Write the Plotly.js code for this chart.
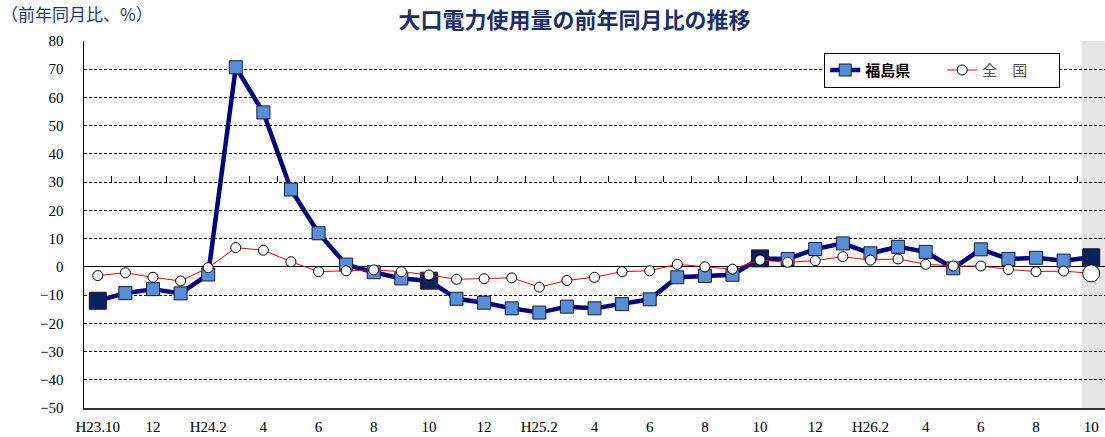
<!DOCTYPE html>
<html><head><meta charset="utf-8">
<script src="https://cdn.plot.ly/plotly-3.0.1.min.js"></script>
<style>html,body{margin:0;padding:0;background:#fff}#c{width:1105px;height:437px}
.legend .traces{opacity:1 !important}</style>
</head><body><div id="c"></div>
<script>
const months = ["H23.10","11","12","H24.1","2","3","4","5","6","7","8","9","10","11","12","H25.1","2","3","4","5","6","7","8","9","10","11","12","H26.1","2","3","4","5","6","7","8","9","10"];
const fukushima = [-12.0,-9.3,-7.9,-9.4,-2.7,70.7,54.7,27.4,11.9,0.8,-1.9,-4.1,-4.9,-11.3,-12.7,-14.7,-16.2,-14.1,-14.7,-13.2,-11.5,-3.7,-3.2,-2.8,3.0,2.8,6.3,8.3,4.8,7.1,5.3,-0.5,6.2,2.8,3.2,2.2,3.4];
const zenkoku = [-3.1,-2.1,-3.7,-5.0,-0.3,6.8,5.9,1.8,-1.7,-1.4,-1.1,-1.7,-2.9,-4.4,-4.2,-3.9,-7.2,-4.8,-3.7,-1.7,-1.4,0.9,0.0,-0.8,2.4,1.6,2.2,3.6,2.4,2.8,0.9,0.3,0.3,-0.9,-1.7,-1.5,-2.3];
const tickLabels = ["H23.10","12","H24.2","4","6","8","10","12","H25.2","4","6","8","10","12","H26.2","4","6","8","10"];
const yTicks = [80,70,60,50,40,30,20,10,0,-10,-20,-30,-40,-50];

const idx = months.map((_, i) => i);
const tickIdx = tickLabels.map((_, k) => k * 2);
const highlight = idx.map(i => i % 12 === 0);

const fFill = highlight.map(h => h ? '#0b2158' : '#568fd8');
const fSize = highlight.map(h => h ? 17 : 13);
const zSize = idx.map(i => i === idx.length - 1 ? 17 : 10);

const traces = [
  {x: idx, y: zenkoku, name: '全　国', type: 'scatter', mode: 'lines+markers',
   xaxis: 'x2', yaxis: 'y', showlegend: false,
   line: {color: '#ff0000', width: 1},
   marker: {symbol: 'circle', size: zSize, color: '#ffffff', opacity: 1, line: {color: '#000000', width: 1}}},
  {x: idx, y: fukushima, name: '福島県', type: 'scatter', mode: 'lines+markers', showlegend: false,
   line: {color: '#000080', width: 4.5},
   marker: {symbol: 'square', size: fSize, color: fFill, opacity: 1, line: {color: '#1a1a3a', width: 1}}},
  {x: idx, y: fukushima, name: '<b>福島県</b>', type: 'scatter', mode: 'lines+markers', visible: 'legendonly',
   line: {color: '#000080', width: 4.5},
   marker: {symbol: 'square', size: 12, color: '#568fd8', line: {color: '#1a1a3a', width: 1}}},
  {x: idx, y: zenkoku, name: '<span style="color:#555">全　国</span>', type: 'scatter', mode: 'lines+markers',
   xaxis: 'x2', visible: 'legendonly',
   line: {color: '#ff0000', width: 1},
   marker: {symbol: 'circle', size: 10, color: '#ffffff', line: {color: '#000000', width: 1}}}
];

const layout = {
  width: 1105, height: 437,
  margin: {l: 84, r: 0, t: 41, b: 29, autoexpand: false},
  paper_bgcolor: '#ffffff', plot_bgcolor: '#ffffff',
  showlegend: true,
  legend: {orientation: 'h', x: 0.725, y: 0.968, xanchor: 'left', yanchor: 'top',
    bgcolor: '#ffffff', bordercolor: '#000000', borderwidth: 1,
    font: {family: 'Noto Sans CJK JP', size: 15, color: '#000000'},
    itemwidth: 30, traceorder: 'normal', entrywidth: 72, itemclick: false},
  title: {text: '<b>大口電力使用量の前年同月比の推移</b>', x: 0.52, xanchor: 'center', y: 0.953, yanchor: 'middle',
    font: {family: 'Noto Sans CJK JP', size: 22, color: '#1b2d6b'}},
  xaxis: {range: [-0.5, 36.5], tickmode: 'array', tickvals: tickIdx, ticktext: tickLabels,
    showgrid: false, zeroline: false, showline: true, linecolor: '#333333', linewidth: 1.5,
    ticks: '', tickfont: {family: 'Liberation Serif', size: 15, color: '#000000'},
    ticklabelstandoff: 4, automargin: false},
  xaxis2: {range: [-0.5, 36.5], overlaying: 'x', anchor: 'free', position: 80/130, side: 'bottom',
    tickmode: 'array', tickvals: idx.slice(1).map(i => i - 0.5), showticklabels: false,
    ticks: 'inside', ticklen: 6, tickcolor: '#000000', tickwidth: 1,
    showline: false, showgrid: false, zeroline: false, automargin: false},
  yaxis: {range: [-50, 80], tickmode: 'array', tickvals: yTicks,
    ticktext: yTicks.map(v => v < 0 ? '−' + Math.abs(v) : String(v)),
    showgrid: true, gridcolor: '#000000', gridwidth: 1, griddash: '3px,2px',
    zeroline: true, zerolinecolor: '#000000', zerolinewidth: 1.2,
    showline: true, linecolor: '#000000', linewidth: 1.5, ticks: '',
    tickfont: {family: 'Liberation Serif', size: 15, color: '#000000'},
    ticklabelstandoff: 16, automargin: false},
  shapes: [{type: 'rect', xref: 'x', yref: 'paper', x0: 35.65, x1: 36.55, y0: 0, y1: 1,
    fillcolor: '#e6e6e6', line: {width: 0}, layer: 'below'}],
  annotations: [{text: '（前年同月比、%）', xref: 'paper', yref: 'paper', x: -0.083, y: 1.075,
    xanchor: 'left', yanchor: 'middle', showarrow: false,
    font: {family: 'Noto Sans CJK JP', size: 17, color: '#1f3a6e'}}]
};

Plotly.newPlot('c', traces, layout, {displayModeBar: false, staticPlot: true});
</script>
</body></html>
